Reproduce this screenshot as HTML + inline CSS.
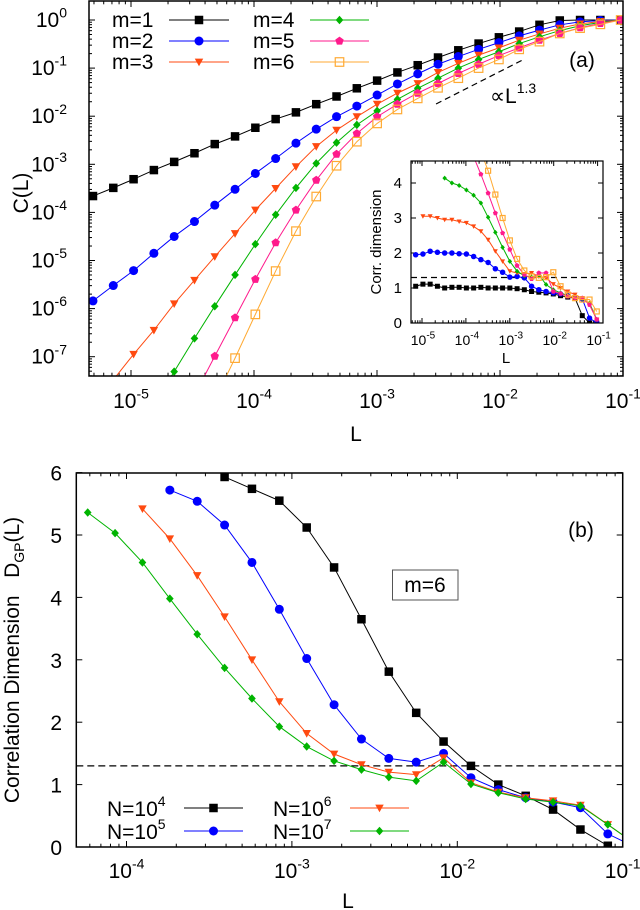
<!DOCTYPE html>
<html><head><meta charset="utf-8">
<style>
html,body{margin:0;padding:0;background:#fff;}
svg{display:block;font-family:"Liberation Sans",sans-serif;}
</style></head>
<body>
<svg id="fig" width="640" height="910" viewBox="0 0 640 910" xmlns="http://www.w3.org/2000/svg"></svg>
<script>
// ---------- Panel (a) data: log10 C(L) on grid log10 L = gridStart + gridStep*j ----------
const gridStart = -5.309;
const gridStep = 0.165;
const seriesNamesA = ["m=1","m=2","m=3","m=4","m=5","m=6"];
const startIdxA = [0,0,1,3,5,6];
const logC_m1 = [-3.66,-3.49,-3.31,-3.12,-2.95,-2.77,-2.58,-2.42,-2.24,-2.06,-1.92,-1.75,-1.59,-1.42,-1.26,-1.09,-0.94,-0.78,-0.63,-0.49,-0.36,-0.24,-0.10,-0.01,0,0,0];
const logC_m2 = [-5.84,-5.52,-5.21,-4.85,-4.50,-4.19,-3.85,-3.52,-3.19,-2.88,-2.56,-2.27,-2.01,-1.79,-1.56,-1.33,-1.12,-0.92,-0.76,-0.61,-0.47,-0.33,-0.21,-0.10,-0.04,-0.01,0];
const logC_m3 = [-7.48,-6.95,-6.45,-5.90,-5.41,-4.92,-4.44,-3.95,-3.50,-3.05,-2.63,-2.29,-2.01,-1.75,-1.52,-1.32,-1.09,-0.90,-0.73,-0.58,-0.42,-0.29,-0.17,-0.08,-0.03,0];
const logC_m4 = [-8.0,-7.31,-6.62,-5.95,-5.30,-4.66,-4.05,-3.49,-2.98,-2.55,-2.18,-1.89,-1.65,-1.42,-1.21,-1.00,-0.82,-0.66,-0.49,-0.35,-0.22,-0.12,-0.05,0];
const logC_m5 = [-7.8,-6.99,-6.19,-5.39,-4.63,-3.95,-3.33,-2.79,-2.36,-2.01,-1.75,-1.52,-1.32,-1.11,-0.92,-0.74,-0.58,-0.42,-0.28,-0.16,-0.07,0];
const logC_m6 = [-7.9,-7.03,-6.12,-5.22,-4.39,-3.67,-3.03,-2.53,-2.15,-1.86,-1.63,-1.41,-1.21,-1.00,-0.82,-0.61,-0.45,-0.28,-0.17,-0.09,0];
// inset: correlation dimension on same grid
const startIdxInset = [1,1,2,5,8,10];
const dim_m1 = [1.05,1.11,1.11,1.05,1.0,1.02,1.02,1.0,1.0,1.02,1.0,1.0,1.0,1.0,0.98,0.95,0.90,0.88,0.86,0.83,0.78,0.74,0.71,0.21,0,0];
const dim_m2 = [1.95,1.97,2.05,2.02,2.0,2.0,1.98,1.97,1.90,1.81,1.73,1.55,1.45,1.31,1.33,1.29,1.05,0.95,0.90,0.86,0.83,0.78,0.74,0.69,0.14,0];
const dim_m3 = [3.05,3.05,3.0,2.95,2.95,2.90,2.86,2.76,2.62,2.38,2.05,1.76,1.48,1.43,1.40,1.43,1.33,1.29,1.11,1.0,0.90,0.81,0.71,0.52,0.10];
const dim_m4 = [4.14,4.00,3.93,3.80,3.65,3.43,3.02,2.59,2.16,1.76,1.48,1.35,1.31,1.38,1.10,0.95,0.86,0.78,0.74,0.69,0.57,0.10];
const dim_m5 = [5.2,4.75,4.25,3.71,3.14,2.57,2.10,1.64,1.38,1.26,1.43,1.43,0.90,0.84,0.76,0.71,0.71,0.52,0.10];
const dim_m6 = [4.9,4.35,3.67,3.0,2.36,1.83,1.50,1.33,1.29,1.31,1.45,1.05,0.81,0.71,0.67,0.67,0.33];
const refSlope = 1.3;
// ---------- Panel (b) data: D_GP on grid log10 L = gridStartB + gridStepB*k ----------
const gridStartB = -4.2345;
const gridStepB = 0.1655;
const seriesNamesB = ["N=10^4","N=10^5","N=10^6","N=10^7"];
const startIdxB = [5,3,2,0];
const dgp_N4 = [5.93,5.74,5.55,5.12,4.48,3.65,2.81,2.15,1.69,1.30,1.00,0.82,0.60,0.28,0.02];
const dgp_N5 = [5.72,5.54,5.16,4.56,3.81,3.02,2.28,1.73,1.42,1.36,1.50,1.11,0.92,0.79,0.72,0.63,0.21,0.0];
const dgp_N6 = [5.42,4.94,4.35,3.69,3.00,2.33,1.82,1.49,1.32,1.20,1.16,1.43,1.03,0.88,0.79,0.74,0.67,0.36,0.05];
const dgp_N7 = [5.36,5.03,4.56,3.98,3.41,2.87,2.38,1.93,1.61,1.38,1.24,1.12,1.06,1.36,1.01,0.87,0.77,0.72,0.66,0.36,0.05];
const refDim = 1.3;

const NS = "http://www.w3.org/2000/svg";
const svg = document.getElementById('fig');
function mk(tag, attrs, parent){ const e=document.createElementNS(NS,tag); for(const k in attrs) e.setAttribute(k,attrs[k]); (parent||svg).appendChild(e); return e; }

const colorsA = ["#000000","#0000ff","#ff4a10","#00b400","#ff1a8c","#ffaa33"];
const shapesA = ["sq","ci","tri","dia","pent","osq"];
const colorsB = ["#000000","#0000ff","#ff4a10","#00b400"];
const shapesB = ["sq","ci","tri","dia"];

function marker(g, shape, x, y, s, col){
  let e;
  if(shape==="sq") e=mk('rect',{x:x-s/2,y:y-s/2,width:s,height:s,fill:col},g);
  else if(shape==="osq") e=mk('rect',{x:x-s/2,y:y-s/2,width:s,height:s,fill:'none',stroke:col,'stroke-width':1.2},g);
  else if(shape==="ci") e=mk('circle',{cx:x,cy:y,r:s/2,fill:col},g);
  else if(shape==="tri") e=mk('polygon',{points:`${x-s/2},${y-s*0.4} ${x+s/2},${y-s*0.4} ${x},${y+s*0.5}`,fill:col},g);
  else if(shape==="dia") e=mk('polygon',{points:`${x},${y-s/2} ${x+s*0.45},${y} ${x},${y+s/2} ${x-s*0.45},${y}`,fill:col},g);
  else { let p=[]; for(let i=0;i<5;i++){const a=-Math.PI/2+i*2*Math.PI/5; p.push((x+s*0.52*Math.cos(a)).toFixed(2)+','+(y+s*0.52*Math.sin(a)).toFixed(2));} e=mk('polygon',{points:p.join(' '),fill:col},g); }
  
  
  return e;
}
function powLabel(parent,x,y,exp,fs,fsSup,anchor,name){
  const t=mk('text',{x:x,y:y,'font-size':fs,'text-anchor':anchor||'middle',fill:'#000'},parent);
  
  
  t.appendChild(document.createTextNode('10'));
  const s=mk('tspan',{'font-size':fsSup,dy:-fs*0.45},t); s.textContent=exp;
  return t;
}
function logMinorTicks(g,xf,lo,hi,y0,y1,len){
  for(let d=Math.floor(lo);d<=Math.ceil(hi);d++){
    for(let m=1;m<=9;m++){
      const lv=d+Math.log10(m); if(lv<lo-1e-9||lv>hi+1e-9) continue;
      const x=xf(lv); const L=(m===1)?len:len*0.55;
      mk('line',{x1:x,y1:y0,x2:x,y2:y0-L,stroke:'#000','stroke-width':1},g);
      mk('line',{x1:x,y1:y1,x2:x,y2:y1+L,stroke:'#000','stroke-width':1},g);
    }
  }
}

// ================= PANEL A =================
const A={l:89,r:623,t:1,b:376};
const ax=v=>A.r+123*(v+1);
const ay=v=>20-48.1*v;
const gA=mk('g',{});  
mk('defs',{}).innerHTML='<clipPath id="clipA"><rect x="89" y="1" width="534" height="375"/></clipPath><clipPath id="clipI"><rect x="411" y="161" width="192" height="162"/></clipPath><clipPath id="clipB"><rect x="76.3" y="473" width="546.4" height="374"/></clipPath>';
const tA=mk('g',{},gA);  
logMinorTicks(tA,ax,Math.log10(4.6e-6),-1,A.b,A.t,6);
for(let d=0;d>=-7;d--){
  const y=ay(d);
  mk('line',{x1:A.l,y1:y,x2:A.l+6,y2:y,stroke:'#000'},tA); mk('line',{x1:A.r,y1:y,x2:A.r-6,y2:y,stroke:'#000'},tA);
  for(let m=2;m<=9;m++){ const yy=ay(d-1+Math.log10(m)); if(yy>A.b) continue;
    mk('line',{x1:A.l,y1:yy,x2:A.l+3,y2:yy,stroke:'#000'},tA); mk('line',{x1:A.r,y1:yy,x2:A.r-3,y2:yy,stroke:'#000'},tA);}
  powLabel(gA,67,y+7,String(d),21,14,'end','y-tick-label-a');
}
[-5,-4,-3,-2,-1].forEach(d=>powLabel(gA,ax(d),408,String(d),21,14,'middle','x-tick-label-a'));
const ylA=mk('text',{x:0,y:0,'font-size':21,'text-anchor':'middle',transform:'translate(28,193) rotate(-90)'},gA); ylA.textContent='C(L)';
 
const xlA=mk('text',{x:356,y:441,'font-size':21,'text-anchor':'middle'},gA); xlA.textContent='L';
 
const dataA=[logC_m1,logC_m2,logC_m3,logC_m4,logC_m5,logC_m6];
const sgA=mk('g',{'clip-path':'url(#clipA)'},gA);
dataA.forEach((arr,si)=>{
  const g=mk('g',{},sgA);
  
  
  const pts=arr.map((v,i)=>[ax(gridStart+gridStep*(startIdxA[si]+i)),ay(v)]);
  mk('polyline',{points:pts.map(p=>p.join(',')).join(' '),fill:'none',stroke:colorsA[si],'stroke-width':1},g);
  pts.forEach(p=>marker(g,shapesA[si],p[0],p[1],shapesA[si]==='ci'?9:8.5,colorsA[si]));
});
const fA=mk('rect',{x:A.l,y:A.t,width:A.r-A.l,height:A.b-A.t,fill:'none',stroke:'#000','stroke-width':1.5},gA);
 
const lgA=mk('g',{},gA);  
seriesNamesA.forEach((n,i)=>{
  const col=Math.floor(i/3), row=i%3;
  const ty=20+row*21;
  const e=mk('g',{},lgA);  
  const tx=mk('text',{x:col?253:112,y:ty+7,'font-size':21},e); tx.textContent=n;
  const x0=col?310:169, x1=col?369:229;
  mk('line',{x1:x0,y1:ty,x2:x1,y2:ty,stroke:colorsA[i],'stroke-width':1},e);
  marker(e,shapesA[i],(x0+x1)/2,ty,shapesA[i]==='ci'?9:8.5,colorsA[i]);
});
const labA=mk('text',{x:582,y:67,'font-size':21,'text-anchor':'middle'},gA); labA.textContent='(a)';
 
// reference slope line
const rl0=-2.52, rl1=-1.82, ry0=-1.746;
const refL=mk('line',{x1:ax(rl0),y1:ay(ry0),x2:ax(rl1),y2:ay(ry0+refSlope*(rl1-rl0)),stroke:'#000','stroke-width':1.2,'stroke-dasharray':'6,4'},gA);
 
const rt=mk('text',{x:490,y:103,'font-size':21},gA);
 
rt.appendChild(document.createTextNode('\u221DL')); const rs=mk('tspan',{'font-size':14,dy:-10},rt); rs.textContent='1.3';

// ---------- Inset ----------
const I={l:411,r:603,t:161,b:323};
const ix=v=>422+43.9*(v+5);
const iy=v=>I.b-35*v;
const gI=mk('g',{},gA);  
mk('rect',{x:I.l,y:I.t,width:I.r-I.l,height:I.b-I.t,fill:'#fff'},gI);
const tI=mk('g',{},gI);
logMinorTicks(tI,ix,(I.l-422)/43.9-5,(I.r-422)/43.9-5,I.b,I.t,5);
for(let v=0;v<=4;v++){ const y=iy(v);
  mk('line',{x1:I.l,y1:y,x2:I.l+5,y2:y,stroke:'#000'},tI); mk('line',{x1:I.r,y1:y,x2:I.r-5,y2:y,stroke:'#000'},tI);
  const t=mk('text',{x:402,y:y+5,'font-size':15,'text-anchor':'end'},gI); t.textContent=String(v);
   
}
[-5,-4,-3,-2,-1].forEach(d=>powLabel(gI,ix(d)+1,345,String(d),14,10,'middle','inset-x-tick-label'));
const il=mk('text',{x:506,y:363,'font-size':15,'text-anchor':'middle'},gI); il.textContent='L';
 
const iyl=mk('text',{x:0,y:0,'font-size':15,'text-anchor':'middle',transform:'translate(381,242) rotate(-90)'},gI); iyl.textContent='Corr. dimension';
 
const dsI=mk('line',{x1:I.l,y1:iy(refDim),x2:I.r,y2:iy(refDim),stroke:'#000','stroke-width':1.2,'stroke-dasharray':'6,4'},gI);
 
const dataI=[dim_m1,dim_m2,dim_m3,dim_m4,dim_m5,dim_m6];
const sgI=mk('g',{'clip-path':'url(#clipI)'},gI);
dataI.forEach((arr,si)=>{
  const g=mk('g',{},sgI);
  
  
  const pts=arr.map((v,i)=>[ix(gridStart+gridStep*(startIdxInset[si]+i)),iy(v)]);
  mk('polyline',{points:pts.map(p=>p.join(',')).join(' '),fill:'none',stroke:colorsA[si],'stroke-width':1},g);
  pts.forEach(p=>marker(g,shapesA[si],p[0],p[1],shapesA[si]==='ci'?5.5:5,colorsA[si]));
});
mk('rect',{x:I.l,y:I.t,width:I.r-I.l,height:I.b-I.t,fill:'none',stroke:'#000','stroke-width':1.2},gI);

// ================= PANEL B =================
const B={l:76.3,r:622.7,t:473,b:847};
const bx=v=>B.r+165.4*(v+1);
const by=v=>B.b-62.4*v;
const gB=mk('g',{});  
const tB=mk('g',{},gB);  
logMinorTicks(tB,bx,-4.30,-1,B.b,B.t,6);
for(let v=0;v<=6;v++){ const y=by(v);
  mk('line',{x1:B.l,y1:y,x2:B.l+6,y2:y,stroke:'#000'},tB); mk('line',{x1:B.r,y1:y,x2:B.r-6,y2:y,stroke:'#000'},tB);
  const t=mk('text',{x:62,y:y+8,'font-size':21,'text-anchor':'end'},gB); t.textContent=String(v);
   
}
[-4,-3,-2,-1].forEach(d=>powLabel(gB,bx(d),878,String(d),21,14,'middle','x-tick-label-b'));
const xlB=mk('text',{x:348,y:908,'font-size':21,'text-anchor':'middle'},gB); xlB.textContent='L';
 
const ylB=mk('text',{x:0,y:0,'font-size':21,'text-anchor':'middle',transform:'translate(19,660) rotate(-90)'},gB);
 
ylB.appendChild(document.createTextNode('Correlation Dimension\u00A0\u00A0\u00A0D'));
const sub=mk('tspan',{'font-size':14,dy:5},ylB); sub.textContent='GP';
const rest=mk('tspan',{dy:-5},ylB); rest.textContent='(L)';
const dsB=mk('line',{x1:B.l,y1:by(refDim),x2:B.r,y2:by(refDim),stroke:'#000','stroke-width':1.2,'stroke-dasharray':'7,4'},gB);
 
const dataB=[dgp_N4,dgp_N5,dgp_N6,dgp_N7];
const sgB=mk('g',{'clip-path':'url(#clipB)'},gB);
dataB.forEach((arr,si)=>{
  const g=mk('g',{},sgB);
  
  
  const pts=arr.map((v,i)=>[bx(gridStartB+gridStepB*(startIdxB[si]+i)),by(v)]);
  mk('polyline',{points:pts.map(p=>p.join(',')).join(' '),fill:'none',stroke:colorsB[si],'stroke-width':1},g);
  pts.forEach(p=>marker(g,shapesB[si],p[0],p[1],shapesB[si]==='ci'?9:8.5,colorsB[si]));
});
const fB=mk('rect',{x:B.l,y:B.t,width:B.r-B.l,height:B.b-B.t,fill:'none',stroke:'#000','stroke-width':1.5},gB);
 
const labB=mk('text',{x:581,y:537,'font-size':21,'text-anchor':'middle'},gB); labB.textContent='(b)';
 
const mb=mk('g',{},gB);  
mk('rect',{x:392.5,y:570,width:65.5,height:30,fill:'#fff',stroke:'#555','stroke-width':1},mb);
const mt=mk('text',{x:425,y:592,'font-size':21,'text-anchor':'middle'},mb); mt.textContent='m=6';
const lgB=mk('g',{},gB);  
['4','5','6','7'].forEach((ex,i)=>{
  const col=Math.floor(i/2), row=i%2;
  const ty=808+row*23;
  const e=mk('g',{},lgB);  
  const t=mk('text',{x:col?273:107,y:ty+8,'font-size':21},e);
  t.appendChild(document.createTextNode('N=10')); const s=mk('tspan',{'font-size':14,dy:-10},t); s.textContent=ex;
  const x0=col?350:184, x1=col?409:243;
  mk('line',{x1:x0,y1:ty,x2:x1,y2:ty,stroke:colorsB[i],'stroke-width':1},e);
  marker(e,shapesB[i],(x0+x1)/2,ty,shapesB[i]==='ci'?9:8.5,colorsB[i]);
});
</script>
</body></html>
